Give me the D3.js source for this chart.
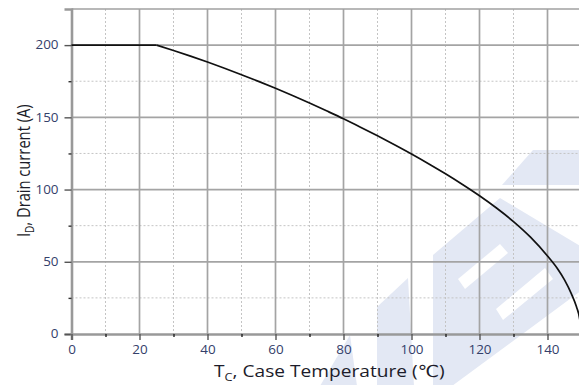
<!DOCTYPE html>
<html>
<head>
<meta charset="utf-8">
<script src="https://cdn.jsdelivr.net/npm/d3@7"></script>
<style>
  html, body { margin: 0; padding: 0; background: #fff; }
  svg { display: block; }
</style>
</head>
<body>
<svg id="chart" width="579" height="385"></svg>
<script>
// ---- data ----
const caseTemp = [0, 25, 30, 35, 40, 45, 50, 55, 60, 65, 70, 75, 80, 85, 90, 95, 100, 105, 110, 115, 120, 125, 130, 135, 140, 143, 145, 147, 148.5, 149.5, 150];
const drainCurrent = [200, 200, 196.3, 192.4, 188.3, 184, 179.5, 174.9, 170.1, 165.1, 159.9, 154.5, 149, 143.2, 137.2, 131, 124.6, 117.9, 110.9, 103.5, 95.7, 87.2, 77.8, 67, 54, 45, 37.5, 28, 19, 10, 0];
const xMajorTicks = [0, 20, 40, 60, 80, 100, 120, 140];
const xMinorTicks = [10, 30, 50, 70, 90, 110, 130, 150];
const yMajorTicks = [0, 50, 100, 150, 200];
const yMinorTicks = [25, 75, 125, 175];
const xDomain = [0, 150];
const yDomain = [0, 225];

// ---- layout ----
const W = 579, H = 385;
const L = 71.5, R = 581.5, T = 9, B = 334;

const svg = d3.select("#chart");
const x = d3.scaleLinear().domain(xDomain).range([L, R]);
const y = d3.scaleLinear().domain(yDomain).range([B, T]);

// ---- watermark (background decoration, in data units) ----
const px2d = (p) => [x.invert(p[0]), y.invert(p[1])];
const wmBlue = [
  [[533,150],[582,150],[582,185],[502,185]],
  [[433,386],[433,255],[500,198],[582,247],[582,290],[452,386]],
  [[377,386],[377,307],[408,278],[414,386]],
  [[320,386],[350,335],[357,386]]
];
const wmWhite = [
  [[458,279],[500,244],[508,253],[465,289]],
  [[496,309],[545,268],[553,279],[503,320]]
];
const wm = svg.append("g").attr("class", "watermark");
const poly = d3.line().x(d => x(d[0])).y(d => y(d[1]));
wmBlue.forEach(p => wm.append("path").attr("d", poly(p.map(px2d)) + "Z").attr("fill", "#e3e8f4"));
wmWhite.forEach(p => wm.append("path").attr("d", poly(p.map(px2d)) + "Z").attr("fill", "#ffffff"));

// ---- grid ----
const grid = svg.append("g");
grid.selectAll(".vminor").data(xMinorTicks).join("line")
  .attr("x1", d => x(d)).attr("x2", d => x(d)).attr("y1", T).attr("y2", B)
  .attr("stroke", "#c4c4c4").attr("stroke-width", 1).attr("stroke-dasharray", "2,2");
grid.selectAll(".hminor").data(yMinorTicks).join("line")
  .attr("x1", L).attr("x2", W).attr("y1", d => y(d)).attr("y2", d => y(d))
  .attr("stroke", "#c4c4c4").attr("stroke-width", 1).attr("stroke-dasharray", "2,2");
grid.selectAll(".vmajor").data(xMajorTicks.filter(d => d > 0)).join("line")
  .attr("x1", d => x(d)).attr("x2", d => x(d)).attr("y1", T).attr("y2", B)
  .attr("stroke", "#a4a4a4").attr("stroke-width", 1.7);
grid.selectAll(".hmajor").data(yMajorTicks.filter(d => d > 0)).join("line")
  .attr("x1", L).attr("x2", W).attr("y1", d => y(d)).attr("y2", d => y(d))
  .attr("stroke", "#a4a4a4").attr("stroke-width", 1.7);
grid.append("line").attr("x1", L).attr("x2", W).attr("y1", T).attr("y2", T)
  .attr("stroke", "#a0a0a0").attr("stroke-width", 1.7);

// ---- axes ----
const labelColor = "#34406a";
const font = "'Open Sans', 'DejaVu Sans', sans-serif";
const sx = 1.12;

const yAxis = d3.axisLeft(y).tickValues(yMajorTicks).tickSize(7).tickPadding(6);
const gy = svg.append("g").attr("transform", `translate(${L},0)`).call(yAxis);
gy.select(".domain").attr("stroke", "#999").attr("stroke-width", 2.6);
gy.selectAll(".tick line").attr("stroke", "#555").attr("stroke-width", 1.4);
gy.selectAll(".tick text").attr("fill", labelColor).style("font-family", font).style("font-size", "12px")
  .attr("x", -13 / sx).attr("transform", `scale(${sx},1)`);
const gyMinor = svg.append("g").attr("transform", `translate(${L},0)`)
  .call(d3.axisLeft(y).tickValues(yMinorTicks).tickSize(3).tickFormat(""));
gyMinor.select(".domain").remove();
gyMinor.selectAll(".tick line").attr("stroke", "#333").attr("stroke-width", 1.4);

const xAxis = d3.axisBottom(x).tickValues(xMajorTicks).tickSize(6).tickPadding(5);
const gx = svg.append("g").attr("transform", `translate(0,${B})`).call(xAxis);
gx.select(".domain").attr("stroke", "#999").attr("stroke-width", 2.6);
gx.selectAll(".tick line").attr("stroke", "#555").attr("stroke-width", 1.4);
gx.selectAll(".tick text").attr("fill", labelColor).style("font-family", font).style("font-size", "12px")
  .attr("transform", `scale(${sx},1)`);
const gxMinor = svg.append("g").attr("transform", `translate(0,${B})`)
  .call(d3.axisBottom(x).tickValues(xMinorTicks).tickSize(3).tickFormat(""));
gxMinor.select(".domain").remove();
gxMinor.selectAll(".tick line").attr("stroke", "#222").attr("stroke-width", 1.4);

// ---- curve: flat package-limited part, then smooth derating part ----
const pts = caseTemp.map((t, i) => [t, drainCurrent[i]]);
const flatPts = pts.filter(d => d[0] <= 25);
const derPts = pts.filter(d => d[0] >= 25);
const curveG = svg.append("g").attr("fill", "none").attr("stroke", "#111").attr("stroke-width", 1.7);
curveG.append("path").attr("d", d3.line().x(d => x(d[0])).y(d => y(d[1]))(flatPts));
curveG.append("path").attr("d", d3.line().x(d => x(d[0])).y(d => y(d[1])).curve(d3.curveMonotoneX)(derPts));

// ---- titles ----
const xt = svg.append("text").attr("transform", "translate(214,377) scale(1.16,1)")
  .attr("fill", "#1c1c2a").style("font-family", font).style("font-size", "16.5px");
xt.append("tspan").text("T");
xt.append("tspan").attr("dy", 4).style("font-size", "11px").text("C");
xt.append("tspan").attr("dy", -4).text(", Case Temperature (℃)");

const yt = svg.append("text").attr("transform", "translate(29.5,237) rotate(-90) scale(1,1.25)")
  .attr("fill", "#1c1c2a").style("font-family", font).style("font-size", "14.7px");
yt.append("tspan").text("I");
yt.append("tspan").attr("dy", 3.5).style("font-size", "10px").text("D");
yt.append("tspan").attr("dy", -3.5).text(", Drain current (A)");
</script>
</body>
</html>
